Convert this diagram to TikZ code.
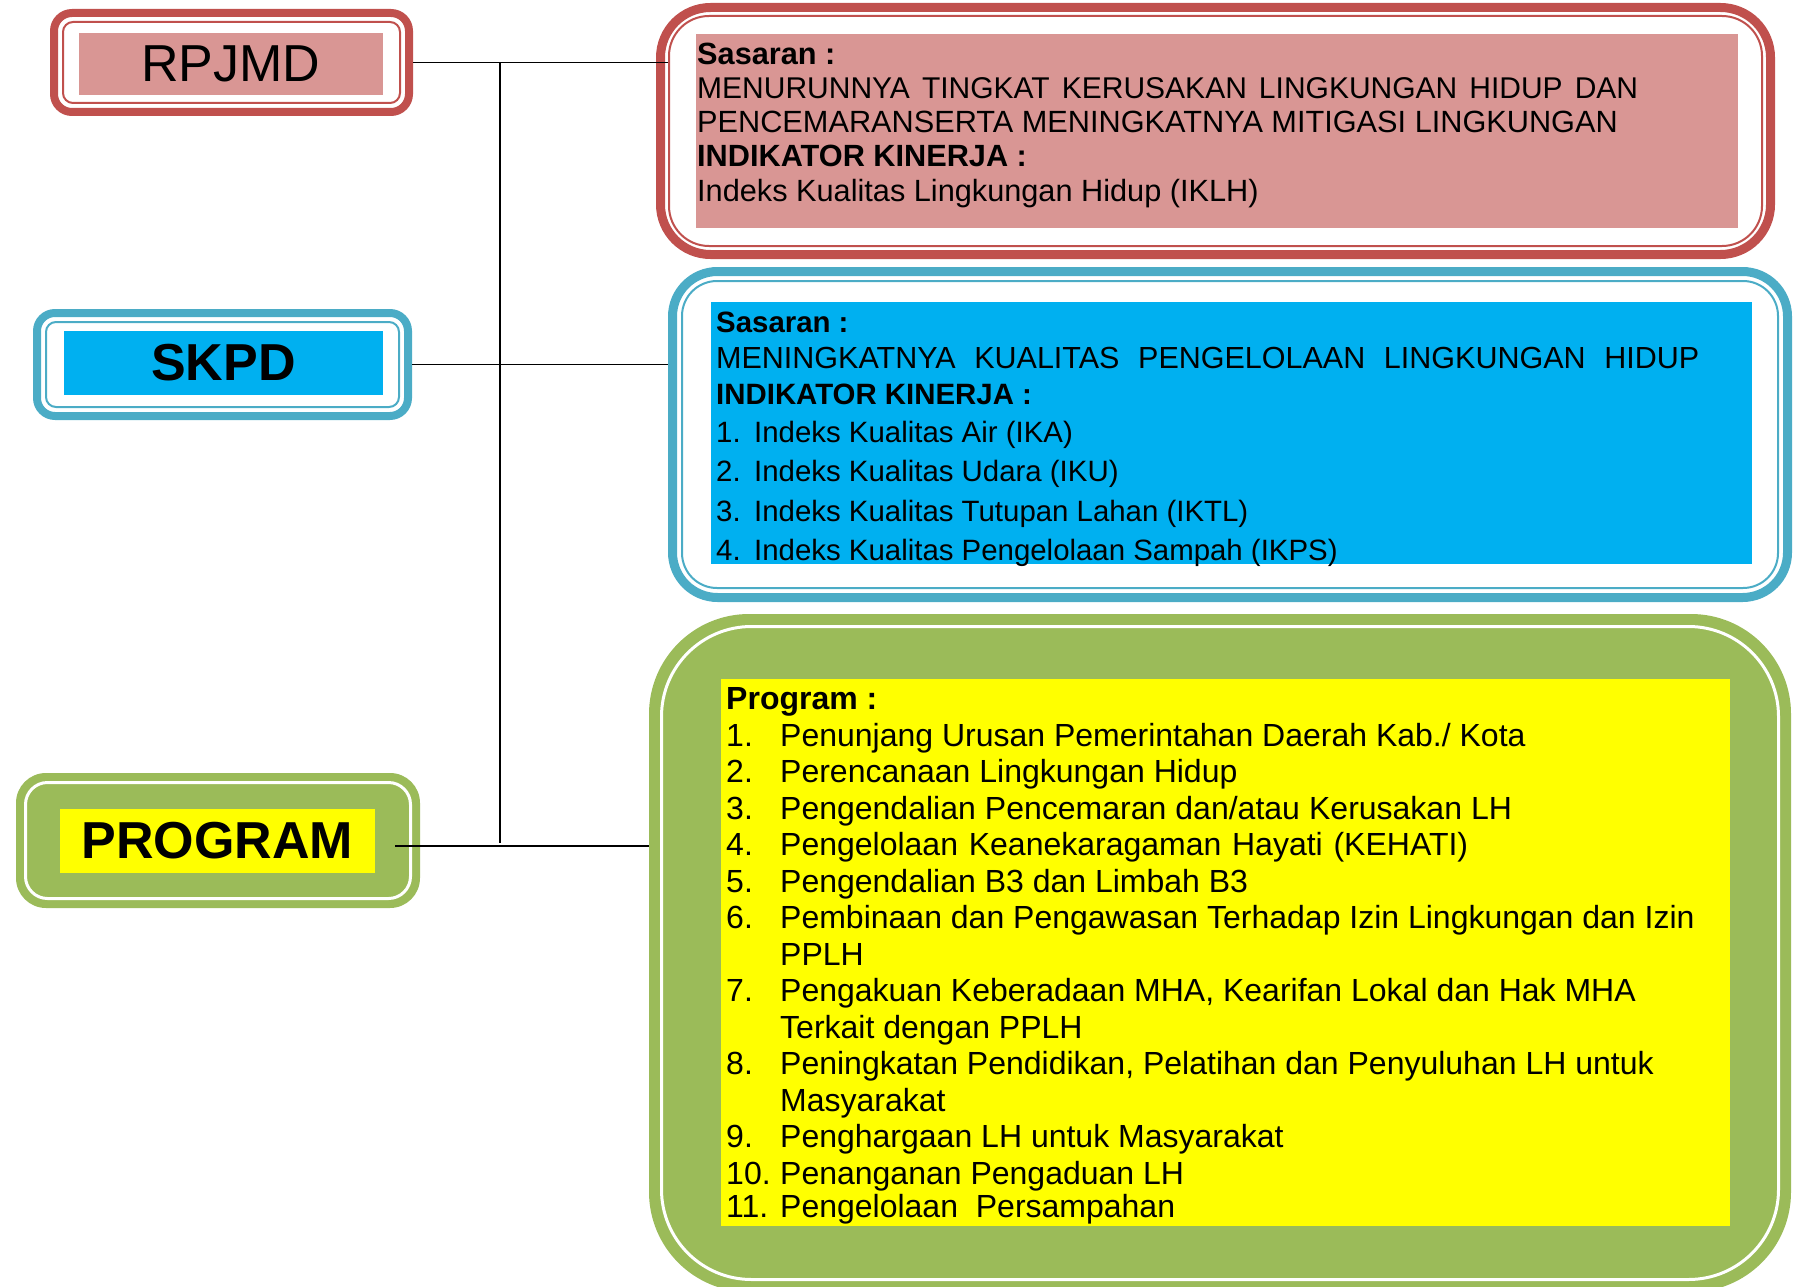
\documentclass[tikz,border=0pt]{standalone}
\usepackage{fontspec}
\setmainfont{Liberation Sans}
\usetikzlibrary{positioning}

\definecolor{redline}{HTML}{C0504D}
\definecolor{redfill}{HTML}{D99694}
\definecolor{blueline}{HTML}{4BACC6}
\definecolor{bluefill}{HTML}{00B0F0}
\definecolor{greenfill}{HTML}{9BBB59}
\definecolor{yellowfill}{HTML}{FFFF00}

\newcommand{\indnum}[1]{\makebox[38pt][l]{#1}}
\newcommand{\prognum}[1]{\makebox[54pt][l]{#1}}

\begin{document}
\begin{tikzpicture}
[
    x=1pt, y=-1pt,
    every node/.style={inner sep=0pt},
    boxedge/.style={draw=#1, line width=8pt, outer sep=4pt},
    boxrim/.style={draw=#1, line width=2pt},
    boxfill/.style={fill=#1},
    tagtext/.style={font=\fontsize{52}{52}\selectfont #1},
    tagtext/.default={},
    bodytext/.style={anchor=north west, align=left},
    link/.style={line width=1.6pt},
]
\useasboundingbox (0,0) rectangle (1793,1287);

% left column
\node[boxedge=redline, rounded corners=18pt, minimum width=355pt, minimum height=99pt] (rpjmdedge) at (231.5,62.5) {};
\node[boxrim=redline, rounded corners=10pt, minimum width=337pt, minimum height=81pt] (rpjmdrim) at (231.5,62.5) {};
\node[boxfill=redfill, minimum width=304pt, minimum height=62pt, tagtext] (rpjmd) at (231,64) {RPJMD};

\node[boxedge=blueline, rounded corners=18pt, minimum width=371pt, minimum height=103pt] (skpdedge) at (222.5,364.5) {};
\node[boxrim=blueline, rounded corners=10pt, minimum width=353pt, minimum height=85pt] (skpdrim) at (222.5,364.5) {};
\node[boxfill=bluefill, minimum width=319pt, minimum height=64pt, tagtext=\bfseries] (skpd) at (223.5,363) {SKPD};

\node[fill=greenfill, rounded corners=30pt, minimum width=404pt, minimum height=135pt] (progedge) at (218,840.5) {};
\node[draw=white, line width=3pt, rounded corners=22pt, minimum width=385pt, minimum height=116pt] (progrim) at (218,840.5) {};
\node[boxfill=yellowfill, minimum width=315pt, minimum height=64pt, tagtext=\bfseries] (program) at (217.5,841) {PROGRAM};

% right column
\node[boxedge=redline, line width=9pt, outer sep=4.5pt, rounded corners=50pt, minimum width=1110pt, minimum height=247pt] (sasaranedge) at (1215.5,131) {};
\node[boxrim=redline, rounded corners=40pt, minimum width=1093pt, minimum height=230pt] (sasaranrim) at (1215.5,131) {};
\node[boxfill=redfill, minimum width=1042pt, minimum height=194pt] (sasaranfill) at (1217,131) {};
\node[bodytext, font=\fontsize{30.7}{34.25}\selectfont] (sasaran) at (697,42.5) {\textbf{Sasaran :}\\
\makebox[941pt][s]{\fontsize{30}{30}\selectfont MENURUNNYA TINGKAT KERUSAKAN LINGKUNGAN HIDUP DAN}\\
PENCEMARANSERTA MENINGKATNYA MITIGASI LINGKUNGAN\\
\textbf{INDIKATOR KINERJA :}\\
Indeks Kualitas Lingkungan Hidup (IKLH)};

\node[boxedge=blueline, line width=9pt, outer sep=4.5pt, rounded corners=45pt, minimum width=1115pt, minimum height=326pt] (indikatoredge) at (1230,434.5) {};
\node[boxrim=blueline, rounded corners=35pt, minimum width=1096pt, minimum height=307pt] (indikatorrim) at (1230,434.5) {};
\node[boxfill=bluefill, minimum width=1041pt, minimum height=262pt] (indikatorfill) at (1231.5,433) {};
\node[bodytext, font=\fontsize{29.4}{36.3}\selectfont] (indikator) at (716,311.5) {\textbf{Sasaran :}\\
\makebox[983pt][s]{\fontsize{30.5}{30}\selectfont MENINGKATNYA KUALITAS PENGELOLAAN LINGKUNGAN HIDUP}\\
\textbf{INDIKATOR KINERJA :}\\[1pt]
\indnum{1.}Indeks Kualitas Air (IKA)\\[3.2pt]
\indnum{2.}Indeks Kualitas Udara (IKU)\\[3.2pt]
\indnum{3.}Indeks Kualitas Tutupan Lahan (IKTL)\\[3.2pt]
\indnum{4.}Indeks Kualitas Pengelolaan Sampah (IKPS)};

\node[fill=greenfill, rounded corners=100pt, minimum width=1142pt, minimum height=678pt] (programedge) at (1220,953) {};
\node[draw=white, line width=3pt, rounded corners=90pt, minimum width=1117pt, minimum height=653pt] (programrim) at (1220,953) {};
\node[boxfill=yellowfill, minimum width=1009pt, minimum height=547pt] (programfill) at (1225.5,952.5) {};
\node[bodytext, font=\fontsize{32}{36.5}\selectfont] (programlist) at (726,687.5) {\textbf{Program :}\\
\prognum{1.}Penunjang Urusan Pemerintahan Daerah Kab./ Kota\\
\prognum{2.}Perencanaan Lingkungan Hidup\\
\prognum{3.}\makebox[732pt][s]{Pengendalian Pencemaran dan/atau Kerusakan LH}\\
\prognum{4.}\makebox[688pt][s]{Pengelolaan Keanekaragaman Hayati (KEHATI)}\\
\prognum{5.}Pengendalian B3 dan Limbah B3\\
\prognum{6.}Pembinaan dan Pengawasan Terhadap Izin Lingkungan dan Izin\\
\prognum{}PPLH\\
\prognum{7.}Pengakuan Keberadaan MHA, Kearifan Lokal dan Hak MHA\\
\prognum{}Terkait dengan PPLH\\
\prognum{8.}Peningkatan Pendidikan, Pelatihan dan Penyuluhan LH untuk\\
\prognum{}Masyarakat\\
\prognum{9.}Penghargaan LH untuk Masyarakat\\
\prognum{10.}Penanganan Pengaduan LH\\[-3pt]
\prognum{11.}Pengelolaan\ \ Persampahan};

% connectors
\coordinate (trunktop) at (500,63);
\coordinate (trunkbot) at (500,843);
\coordinate (progtap) at (395,846);
\draw[link] (rpjmdedge.east) -- (rpjmdedge.east -| sasaranrim.west);
\draw[link] (trunktop) -- (trunkbot);
\draw[link] (skpdedge.east) -- (skpdedge.east -| indikatoredge.west);
\draw[link] (progtap) -- (progtap -| programedge.west);
\end{tikzpicture}
\end{document}
